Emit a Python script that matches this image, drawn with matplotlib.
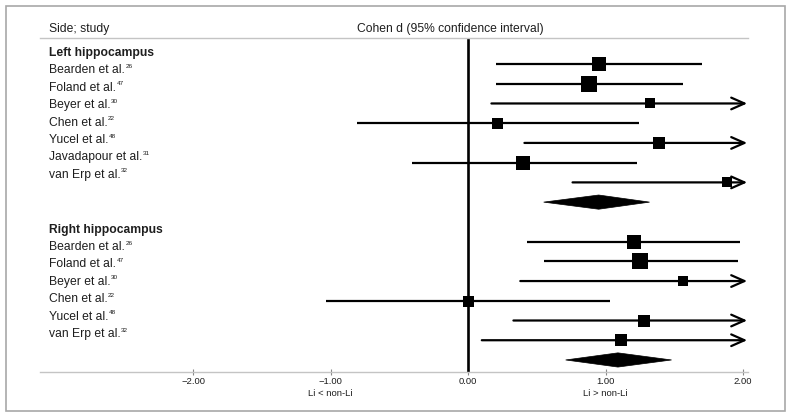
"""Forest plot: hippocampal volume, lithium vs non-lithium (Cohen d, 95% CI)."""

import matplotlib

matplotlib.use("Agg")
import matplotlib.pyplot as plt  # noqa: E402
from matplotlib.patches import Polygon, Rectangle  # noqa: E402
from matplotlib.transforms import blended_transform_factory  # noqa: E402

plt.rcParams["font.family"] = ["Liberation Sans", "DejaVu Sans"]

# ---- data (None = CI runs past the right edge -> arrow)
left_studies = ["Bearden et al.", "Foland et al.", "Beyer et al.", "Chen et al.",
                "Yucel et al.", "Javadapour et al.", "van Erp et al."]
left_refs = ["26", "47", "30", "22", "48", "31", "32"]
left_d = [0.95, 0.88, 1.32, 0.21, 1.39, 0.40, 1.88]
left_lo = [0.20, 0.20, 0.17, -0.81, 0.41, -0.41, 0.76]
left_hi = [1.70, 1.56, None, 1.24, None, 1.23, None]
left_weight = [13.5, 15.5, 10.3, 11.0, 11.5, 14.0, 10.7]
left_pooled = (0.55, 0.95, 1.32)

right_studies = ["Bearden et al.", "Foland et al.", "Beyer et al.", "Chen et al.",
                 "Yucel et al.", "van Erp et al."]
right_refs = ["26", "47", "30", "22", "48", "32"]
right_d = [1.21, 1.25, 1.56, 0.00, 1.28, 1.11]
right_lo = [0.43, 0.55, 0.38, -1.03, 0.33, 0.10]
right_hi = [1.98, 1.96, None, 1.03, None, None]
right_weight = [14.3, 15.7, 10.0, 11.0, 11.3, 11.3]
right_pooled = (0.71, 1.09, 1.48)

xticks = [-2.0, -1.0, 0.0, 1.0, 2.0]
XMIN, XMAX = -3.113, 2.036
ARROW_TIP = 2.03

W, H = 791, 418
fig = plt.figure(figsize=(W / 100, H / 100), dpi=100)
ax = fig.add_axes([40 / W, 1 - 372 / H, (748 - 40) / W, (372 - 38) / H])
ax.set_xlim(XMIN, XMAX)
ax.set_ylim(16.61, -0.318)

TXT = "#1e1e1e"
FS = 8.7
LABEL_X = 49          # px from left edge
LABEL_STEP = 17.4     # the study column is set a little tighter than the plot rows
BASE_OFF = 4.3        # cap-centre -> baseline, px


def fig_y(px):
    return 1 - px / H


def draw_block(first_row, header_px, title, studies, refs, d, lo, hi, weight, pooled):
    fig.text(LABEL_X / W, fig_y(header_px + BASE_OFF), title, fontsize=FS,
             fontweight="bold", va="baseline", ha="left", color=TXT)
    for i, name in enumerate(studies):
        y = first_row + i
        t = fig.text(LABEL_X / W, fig_y(header_px + (i + 1) * LABEL_STEP + BASE_OFF), name,
                     fontsize=FS, va="baseline", ha="left", color=TXT)
        # tiny reference-number superscript tucked against "al."
        ax.annotate(refs[i], xy=(1, 1.0), xycoords=t, xytext=(0.3, 0.3),
                    textcoords="offset points", fontsize=4.6, va="top", ha="left", color=TXT)
        if hi[i] is None:
            ax.annotate("", xy=(ARROW_TIP, y), xytext=(lo[i], y),
                        arrowprops=dict(arrowstyle="->,head_length=0.95,head_width=0.42",
                                        lw=1.6, color="black", shrinkA=0, shrinkB=0),
                        zorder=3)
        else:
            ax.plot([lo[i], hi[i]], [y, y], color="black", lw=1.6, solid_capstyle="butt",
                    zorder=3)
        ax.plot(d[i], y, marker="s", ms=weight[i] * 0.72, mew=0, color="black",
                linestyle="none", zorder=4)
    yd = first_row + len(studies)
    plo, pest, phi = pooled
    ax.add_patch(Polygon([(plo, yd), (pest, yd - 0.36), (phi, yd), (pest, yd + 0.36)],
                         closed=True, facecolor="black", edgecolor="black", lw=0.5, zorder=4))


draw_block(1, 51.7, "Left hippocampus", left_studies, left_refs, left_d, left_lo, left_hi,
           left_weight, left_pooled)
draw_block(10, 228.3, "Right hippocampus", right_studies, right_refs, right_d, right_lo,
           right_hi, right_weight, right_pooled)

ax.axvline(0, color="black", lw=1.9, zorder=2)

for side in ("left", "right"):
    ax.spines[side].set_visible(False)
for side in ("top", "bottom"):
    ax.spines[side].set_color("#c4c4c4")
    ax.spines[side].set_linewidth(1.0)
ax.set_yticks([])
ax.set_xticks(xticks)
ax.set_xticklabels([f"{v:.2f}".replace("-", "\u2212") for v in xticks], fontsize=6.8,
                   color=TXT)
ax.tick_params(axis="x", direction="inout", length=4, width=0.8, color="#888888", pad=1.5)

fig.text(LABEL_X / W, fig_y(27.7 + BASE_OFF), "Side; study", fontsize=FS, va="baseline",
         ha="left", color=TXT)
fig.text(450 / W, fig_y(27.7 + BASE_OFF), "Cohen d (95% confidence interval)", fontsize=FS,
         va="baseline", ha="center", color=TXT)
dir_tr = blended_transform_factory(ax.transData, fig.transFigure)
for xv, txt in ((-1.0, "Li < non-Li"), (1.0, "Li > non-Li")):
    ax.text(xv, fig_y(396), txt, transform=dir_tr, fontsize=6.8, ha="center",
            va="baseline", color=TXT)

fig.patches.append(Rectangle((6 / W, fig_y(411)), (785 - 6) / W, (411 - 6) / H,
                             transform=fig.transFigure, fill=False, edgecolor="#a8a8a8",
                             lw=1.2))

fig.savefig("out.png", dpi=100)
